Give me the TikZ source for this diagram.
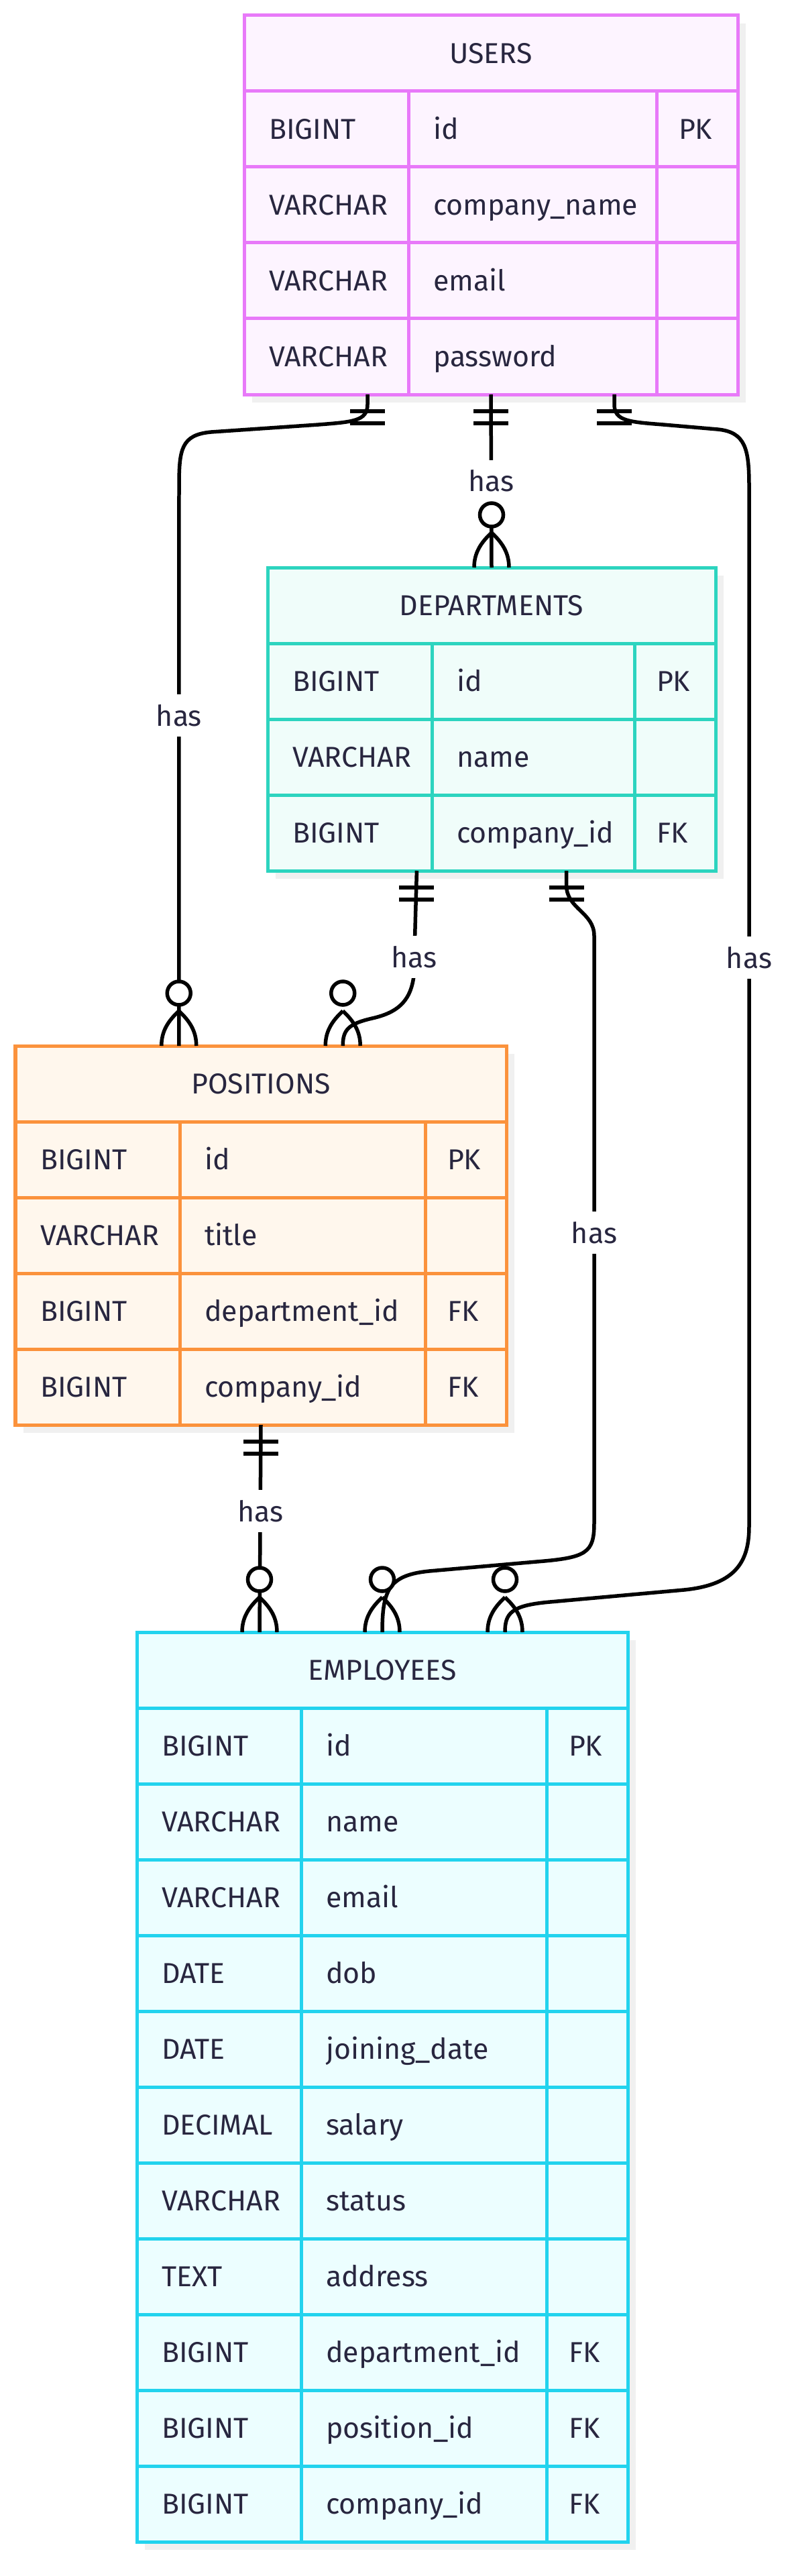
\documentclass[tikz,border=0pt]{standalone}
\usepackage{fontspec}
\setmainfont{Fira Sans}
\usetikzlibrary{calc,positioning,shadows}
\hyphenpenalty=10000

\definecolor{ink}{HTML}{28263F}
\definecolor{shadowgray}{HTML}{F0F0F0}
\definecolor{usersline}{HTML}{E879F9}
\definecolor{usersfill}{HTML}{FDF4FF}
\definecolor{deptline}{HTML}{2DD4BF}
\definecolor{deptfill}{HTML}{F0FDFA}
\definecolor{posline}{HTML}{FB923C}
\definecolor{posfill}{HTML}{FFF7ED}
\definecolor{empline}{HTML}{22D3EE}
\definecolor{empfill}{HTML}{ECFEFF}

\newcommand{\erfont}{\fontsize{12.2pt}{14pt}\selectfont}

\begin{document}
\begin{tikzpicture}[
    every node/.style={font=\erfont, text=ink},
    tablebox/.style={anchor=north west, inner sep=0pt, outer sep=0pt, line width=0.05cm,
                     drop shadow={shadow xshift=0.12cm, shadow yshift=-0.12cm,
                                  fill=shadowgray, opacity=1}},
    cellbase/.style={line width=0.05cm, outer sep=0pt, inner ysep=0pt,
                     minimum height=1.13cm, text height=8.4pt, text depth=0pt},
    headcell/.style={cellbase, anchor=north west},
    typecell/.style={cellbase, anchor=north west, align=left, inner xsep=0.37cm, text width=1.71cm},
    namecell/.style={cellbase, align=left, inner xsep=0.37cm, text width=#1},
    keycell/.style={cellbase, align=left, inner xsep=0.33cm, text width=0.55cm},
    userscol/.style={draw=usersline, fill=usersfill},
    deptcol/.style={draw=deptline, fill=deptfill},
    poscol/.style={draw=posline, fill=posfill},
    empcol/.style={draw=empline, fill=empfill},
    rel/.style={line width=0.055cm, black},
    lbl/.style={fill=white, inner xsep=0.05cm, inner ysep=0.16cm, text height=8.8pt, text depth=0pt},
    onlyone/.pic={\draw[rel] (-0.26,-0.25) -- (0.26,-0.25) (-0.26,-0.43) -- (0.26,-0.43);},
    zeromany/.pic={
      \draw[rel] (0,0.52) .. controls (-0.16,0.37) and (-0.26,0.22) .. (-0.26,0)
                 (0,0.52) .. controls (0.16,0.37) and (0.26,0.22) .. (0.26,0);
      \draw[rel, fill=white] (0,0.785) circle (0.175);},
  ]
  \path[use as bounding box, fill=white] (0,0) rectangle (11.77,-38.40);

  % USERS
  \node[tablebox, userscol, minimum width=7.36cm, minimum height=5.65cm] (users) at (3.64,-0.23) {};
  \node[headcell, userscol, minimum width=7.36cm] (users-head) at (users.north west) {USERS};
  \foreach \ty/\nm/\ky [count=\i] in {BIGINT/id/PK, VARCHAR/company\_name/,
      VARCHAR/email/, VARCHAR/password/} {
    \node[typecell, userscol] (users-t\i) at ($(users.north west)+(0,-1.13*\i)$) {\ty};
    \node[namecell=2.96cm, userscol, right=0pt of users-t\i] (users-n\i) {\nm};
    \node[keycell, userscol, right=0pt of users-n\i] (users-k\i) {\ky};
  }

  % DEPARTMENTS
  \node[tablebox, deptcol, minimum width=6.68cm, minimum height=4.52cm] (depts) at (3.99,-8.46) {};
  \node[headcell, deptcol, minimum width=6.68cm] (depts-head) at (depts.north west) {DEPARTMENTS};
  \foreach \ty/\nm/\ky [count=\i] in {BIGINT/id/PK, VARCHAR/name/, BIGINT/company\_id/FK} {
    \node[typecell, deptcol] (depts-t\i) at ($(depts.north west)+(0,-1.13*\i)$) {\ty};
    \node[namecell=2.28cm, deptcol, right=0pt of depts-t\i] (depts-n\i) {\nm};
    \node[keycell, deptcol, right=0pt of depts-n\i] (depts-k\i) {\ky};
  }

  % POSITIONS
  \node[tablebox, poscol, minimum width=7.32cm, minimum height=5.65cm] (positions) at (0.23,-15.59) {};
  \node[headcell, poscol, minimum width=7.32cm] (positions-head) at (positions.north west) {POSITIONS};
  \foreach \ty/\nm/\ky [count=\i] in {BIGINT/id/PK, VARCHAR/title/,
      BIGINT/department\_id/FK, BIGINT/company\_id/FK} {
    \node[typecell, poscol] (positions-t\i) at ($(positions.north west)+(0,-1.13*\i)$) {\ty};
    \node[namecell=2.92cm, poscol, right=0pt of positions-t\i] (positions-n\i) {\nm};
    \node[keycell, poscol, right=0pt of positions-n\i] (positions-k\i) {\ky};
  }

  % EMPLOYEES
  \node[tablebox, empcol, minimum width=7.32cm, minimum height=13.56cm] (employees) at (2.04,-24.33) {};
  \node[headcell, empcol, minimum width=7.32cm] (employees-head) at (employees.north west) {EMPLOYEES};
  \foreach \ty/\nm/\ky [count=\i] in {BIGINT/id/PK, VARCHAR/name/, VARCHAR/email/,
      DATE/dob/, DATE/joining\_date/, DECIMAL/salary/, VARCHAR/status/, TEXT/address/,
      BIGINT/department\_id/FK, BIGINT/position\_id/FK, BIGINT/company\_id/FK} {
    \node[typecell, empcol] (employees-t\i) at ($(employees.north west)+(0,-1.13*\i)$) {\ty};
    \node[namecell=2.92cm, empcol, right=0pt of employees-t\i] (employees-n\i) {\nm};
    \node[keycell, empcol, right=0pt of employees-n\i] (employees-k\i) {\ky};
  }

  % ports
  \coordinate (u-pos) at ($(users.south west)!0.25!(users.south east)$);
  \coordinate (u-emp) at ($(users.south west)!0.75!(users.south east)$);
  \coordinate (d-pos) at ($(depts.south west)!0.333!(depts.south east)$);
  \coordinate (d-emp) at ($(depts.south west)!0.667!(depts.south east)$);
  \coordinate (p-usr) at ($(positions.north west)!0.333!(positions.north east)$);
  \coordinate (p-dep) at ($(positions.north west)!0.667!(positions.north east)$);
  \coordinate (e-pos) at ($(employees.north west)!0.25!(employees.north east)$);
  \coordinate (e-usr) at ($(employees.north west)!0.75!(employees.north east)$);

  % relations
  \draw[rel] (users.south) -- node[lbl, pos=0.5] {has} (depts.north);
  \draw[rel] (u-pos) -- ++(0,-0.15)
    .. controls (5.48,-6.28) and (5.25,-6.29) .. (4.75,-6.33) -- (3.15,-6.44)
    .. controls (2.70,-6.48) and (2.67,-6.70) .. (2.67,-7.25)
    -- node[lbl, pos=0.41] {has} (p-usr);
  \draw[rel] (u-emp) -- ++(0,-0.15)
    .. controls (9.16,-6.28) and (9.39,-6.29) .. (9.89,-6.33) -- (10.70,-6.40)
    .. controls (11.12,-6.44) and (11.17,-6.70) .. (11.17,-7.25)
    -- node[lbl, pos=0.4535] {has} (11.17,-22.75)
    .. controls (11.17,-23.25) and (11.00,-23.62) .. (10.20,-23.70) -- (8.20,-23.88)
    .. controls (7.62,-23.93) and (7.53,-24.05) .. (e-usr);
  \draw[rel] (d-pos) -- node[lbl, pos=0.82] {has} (6.17,-14.55)
    .. controls (6.12,-14.95) and (5.90,-15.10) .. (5.55,-15.18)
    .. controls (5.20,-15.26) and (5.11,-15.35) .. (p-dep);
  \draw[rel] (d-emp) -- ++(0,-0.22)
    .. controls (8.45,-13.55) and (8.86,-13.60) .. (8.86,-13.95)
    -- node[lbl, pos=0.506] {has} (8.86,-22.70)
    .. controls (8.86,-23.15) and (8.75,-23.22) .. (8.00,-23.28) -- (6.40,-23.42)
    .. controls (5.80,-23.48) and (5.70,-23.70) .. (employees.north);
  \draw[rel] (positions.south) -- node[lbl, pos=0.417] {has} (e-pos);

  % cardinality marks
  \pic at (users.south) {onlyone};
  \pic at (u-pos) {onlyone};
  \pic at (u-emp) {onlyone};
  \pic at (d-pos) {onlyone};
  \pic at (d-emp) {onlyone};
  \pic at (positions.south) {onlyone};
  \pic at (depts.north) {zeromany};
  \pic at (p-usr) {zeromany};
  \pic at (p-dep) {zeromany};
  \pic at (e-pos) {zeromany};
  \pic at (employees.north) {zeromany};
  \pic at (e-usr) {zeromany};
\end{tikzpicture}
\end{document}
